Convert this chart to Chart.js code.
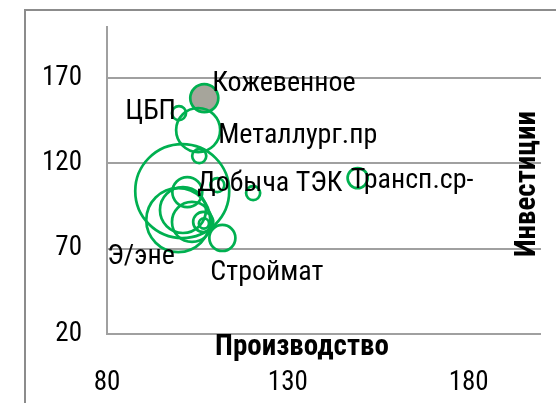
<!DOCTYPE html>
<html>
<head>
<meta charset="utf-8">
<script src="https://cdn.jsdelivr.net/npm/chart.js"></script>
<style>
  html, body { margin: 0; padding: 0; background: #fff; }
  #wrap { position: relative; width: 556px; height: 403px; overflow: hidden; }
  #frame { position: absolute; left: 24px; top: 9px; right: -4px; bottom: -4px;
           border-left: 2px solid #8c8c8c; border-top: 2px solid #8c8c8c; }
  canvas { position: absolute; left: 0; top: 0; }
</style>
</head>
<body>
<div id="wrap">
  <div id="frame"></div>
  <canvas id="myChart" width="556" height="403"></canvas>
</div>
<script>
// Bubble data
const labels = ['Кожевенное', 'ЦБП', 'Металлург.пр', '', 'Добыча ТЭК', '', '', '', 'Трансп.ср-',
                'Э/эне', '', '', '', 'Строймат', ''];
const production = [106.9, 99.9, 105.2, 105.5, 100.8, 102.2, 110.5, 120.4, 149.3,
                    99.7, 103.5, 106.6, 106.8, 111.9, 101.0];
const investment = [158.3, 149.5, 139.6, 124.3, 103.8, 103.2, 107.3, 102.6, 111.4,
                    86.8, 85.7, 85.7, 84.8, 76.3, 92.7];
const share = [12.3, 3.1, 30.3, 3.1, 138, 14, 3.1, 3.1, 6.3,
               64, 25, 6.3, 1.6, 10.6, 33];
const xTicks = [80, 130, 180];
const yTicks = [20, 70, 120, 170];

const narrow = "'Roboto Condensed', 'DejaVu Sans Condensed', 'Liberation Sans', sans-serif";
const green = '#00b050';

// label offsets from the bubble centre, in pixels
const labelPos = {
    'Кожевенное': [8, -14, 'left'],
    'ЦБП': [-3, -1, 'right'],
    'Металлург.пр': [20, 6, 'left'],
    'Добыча ТЭК': [15, -7, 'left'],
    'Трансп.ср-': [-7, 3, 'left'],
    'Э/эне': [-71, 37, 'left'],
    'Строймат': [-12, 35, 'left']
};

const points = production.map((x, i) => ({ x: x, y: investment[i], r: 4 * Math.sqrt(share[i]) }));

const extraText = {
    id: 'extraText',
    afterDatasetsDraw(chart) {
        const ctx = chart.ctx;
        const meta = chart.getDatasetMeta(0);
        ctx.save();
        ctx.fillStyle = '#000';
        ctx.font = '28px ' + narrow;
        ctx.textBaseline = 'middle';
        meta.data.forEach((el, i) => {
            const name = labels[i];
            if (!name) return;
            const p = labelPos[name];
            ctx.textAlign = p[2];
            ctx.fillText(name, el.x + p[0], el.y + p[1]);
        });

        // axis titles
        ctx.font = 'bold 29px ' + narrow;
        ctx.textAlign = 'center';
        ctx.fillText('Производство', 302, 348);
        ctx.translate(528, 184);
        ctx.rotate(-Math.PI / 2);
        ctx.fillText('Инвестиции', 0, 0);
        ctx.restore();
    }
};

const ctx = document.getElementById('myChart').getContext('2d');
new Chart(ctx, {
    type: 'bubble',
    data: {
        datasets: [{
            data: points,
            borderColor: green,
            borderWidth: 2.7,
            backgroundColor: points.map((p, i) => i === 0 ? '#a6a59b' : 'rgba(0,0,0,0)'),
            hoverRadius: 0,
            clip: false
        }]
    },
    options: {
        responsive: false,
        animation: false,
        events: [],
        layout: { autoPadding: false, padding: { top: 27, right: 15, left: 0, bottom: 0 } },
        plugins: { legend: { display: false }, tooltip: { enabled: false } },
        scales: {
            x: {
                type: 'linear',
                min: 80,
                max: 200,
                afterBuildTicks: s => { s.ticks = xTicks.map(v => ({ value: v })); },
                afterFit: s => { s.height = 69; s.paddingLeft = 0; s.paddingRight = 0; },
                grid: { display: false },
                border: { display: false },
                ticks: { color: '#000', padding: 25, maxRotation: 0, font: { family: narrow, size: 27 } }
            },
            y: {
                type: 'linear',
                min: 20,
                max: 200,
                afterBuildTicks: s => { s.ticks = yTicks.map(v => ({ value: v })); },
                afterFit: s => { s.width = 107; s.paddingTop = 0; s.paddingBottom = 0; },
                grid: { color: '#a0a0a0', lineWidth: 2, drawTicks: false },
                border: { display: true, color: '#a0a0a0', width: 2 },
                ticks: { color: '#000', padding: 25, font: { family: narrow, size: 27 } }
            }
        }
    },
    plugins: [extraText]
});
</script>
</body>
</html>
